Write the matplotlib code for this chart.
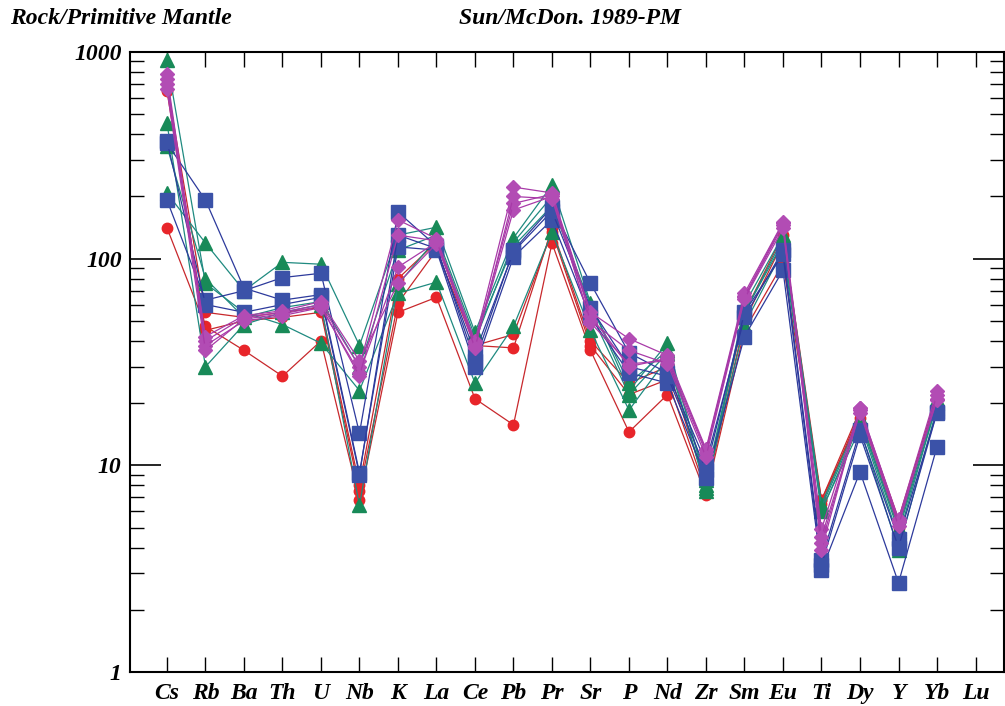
import matplotlib
matplotlib.use("Agg")
import matplotlib.pyplot as plt
from matplotlib.ticker import FixedLocator, NullFormatter

elements = ["Cs", "Rb", "Ba", "Th", "U", "Nb", "K", "La", "Ce", "Pb", "Pr",
            "Sr", "P", "Nd", "Zr", "Sm", "Eu", "Ti", "Dy", "Y", "Yb", "Lu"]

# values for Cs ... Yb (Lu not analysed)
red_1 = [141, 47, 36, 27, 40, 6.8, 55, 65, 21, 15.7, 119, 36, 14.5, 22, 7.2, 45, 95, 6.8, 17, 5.0, 21]
red_2 = [650, 45, 50, 52, 55, 7.5, 61, 110, 38, 43, 135, 38, 22, 26, 7.5, 50, 120, 6.5, 18, 5.2, 21]
red_3 = [700, 55, 52, 55, 58, 8.0, 80, 120, 38, 37, 140, 40, 25, 30, 8.0, 55, 130, 6.8, 18.5, 5.5, 22]

green_1 = [208, 119, 70, 96, 94, 38, 130, 142, 44, 126, 227, 61, 23, 39, 8.0, 55, 120, 6.0, 16, 4.5, 20]
green_2 = [915, 76, 55, 48, 39, 23, 68, 77, 25, 47, 134, 45, 18.5, 33, 7.8, 48, 110, 6.1, 15, 3.9, 19]
green_3 = [453, 30, 48, 55, 60, 6.4, 75, 125, 40, 120, 200, 55, 22, 35, 7.5, 60, 130, 6.5, 17, 5.0, 21]
green_4 = [350, 80, 52, 58, 62, 30, 110, 130, 42, 115, 180, 60, 25, 36, 8.5, 55, 125, 6.3, 16.5, 4.8, 20]

blue_1 = [362, 192, 72, 63, 67, 9.2, 114, 110, 30, 102, 154, 52, 28, 25, 8.7, 42, 88, 3.1, 9.3, 2.7, 12.3]
blue_2 = [192, 63, 70, 81, 85, 14.3, 168, 115, 32, 110, 178, 76, 35, 28, 10.3, 52, 110, 3.5, 14.8, 4.4, 18.1]
blue_3 = [370, 60, 55, 60, 65, 9.0, 130, 112, 35, 108, 170, 58, 30, 27, 9.5, 55, 105, 3.3, 14, 4.0, 18]

purple_1 = [780, 40, 52, 55, 60, 30, 154, 125, 40, 222, 208, 55, 41, 34, 12, 68, 150, 4.9, 19, 5.5, 23]
purple_2 = [740, 38, 50, 53, 58, 28, 91, 120, 38, 172, 200, 49, 31, 32, 11.5, 65, 145, 4.2, 18.5, 5.3, 21]
purple_3 = [700, 42, 53, 56, 62, 32, 76, 118, 39, 185, 205, 53, 30, 33, 11.8, 66, 148, 3.9, 19, 5.4, 20.7]
purple_4 = [660, 36, 51, 54, 59, 27, 130, 122, 37, 200, 195, 50, 36, 31, 11, 64, 140, 4.5, 18, 5.1, 22]

groups = [
    ([red_1, red_2, red_3], "#c8282c", "#e8252a", "o", 7.5),
    ([green_1, green_2, green_3, green_4], "#1f8a80", "#188a58", "^", 10),
    ([blue_1, blue_2, blue_3], "#2d3a9c", "#3b52a8", "s", 10),
    ([purple_1, purple_2, purple_3, purple_4], "#a83aa8", "#b24cb4", "D", 7.5),
]

font = {"family": "Liberation Serif", "weight": "bold", "style": "italic"}

fig = plt.figure(figsize=(10.05, 7.06), dpi=100)
ax = fig.add_axes([130 / 1005, 34 / 706, 874 / 1005, 620 / 706])

for series_list, lc, mc, mk, ms in groups:
    for s in series_list:
        xs = list(range(len(s)))
        ax.plot(xs, s, color=lc, lw=0.9, marker=mk, markersize=ms,
                markerfacecolor=mc, markeredgecolor=mc, zorder=3)

ax.set_yscale("log")
ax.set_ylim(1, 1000)
ax.set_xlim(-0.96, 21.74)

ax.set_xticks(range(len(elements)))
ax.set_xticklabels(elements, fontdict=font, fontsize=17)
ax.set_yticks([1, 10, 100, 1000])
ax.set_yticklabels(["1", "10", "100", "1000"], fontdict=font, fontsize=17)
ax.yaxis.set_minor_locator(FixedLocator(
    [m * d for d in (1, 10, 100) for m in range(2, 10)]))
ax.yaxis.set_minor_formatter(NullFormatter())

ax.tick_params(axis="x", which="major", direction="in", length=11, width=1,
               top=True, bottom=True, pad=8, colors="black")
ax.tick_params(axis="y", which="major", direction="in", length=22, width=1.2,
               left=True, right=True, pad=6)
ax.tick_params(axis="y", which="minor", direction="in", length=10, width=1,
               left=True, right=True)

for sp in ax.spines.values():
    sp.set_linewidth(1.5)

fig.text(10 / 1005, 1 - 18 / 706, "Rock/Primitive Mantle", fontdict=font,
         fontsize=17, ha="left", va="center")
fig.text(570 / 1005, 1 - 18 / 706, "Sun/McDon. 1989-PM", fontdict=font,
         fontsize=17, ha="center", va="center")

fig.savefig("out.png", dpi=100)
